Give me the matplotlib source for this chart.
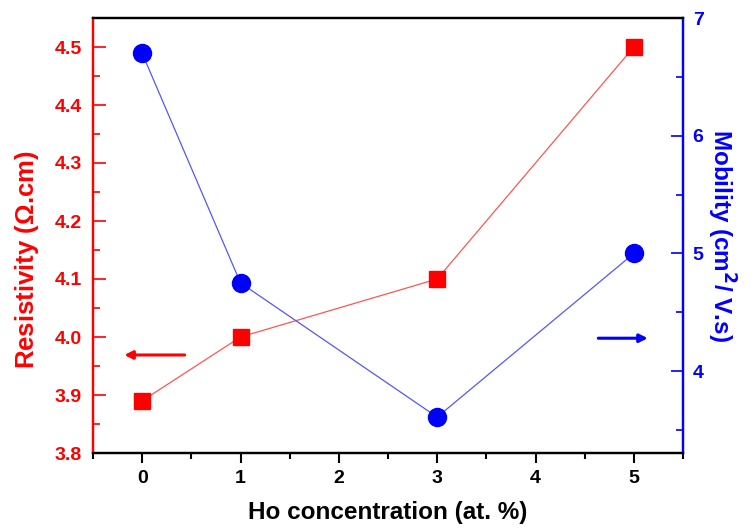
#!/usr/bin/env python3

import matplotlib
matplotlib.use('Agg')
import matplotlib.pyplot as plt
from matplotlib.ticker import MultipleLocator

# Data
ho_conc = [0, 1, 3, 5]
resistivity = [3.89, 4.00, 4.10, 4.50]
mobility = [6.70, 4.75, 3.61, 5.00]

plt.rcParams['font.family'] = ['Liberation Sans', 'DejaVu Sans']
plt.rcParams['font.weight'] = 'bold'


def main():
    fig = plt.figure(figsize=(7.52, 5.30), dpi=100)
    ax = fig.add_axes([93 / 752, 1 - 453 / 530, (683 - 93) / 752, (453 - 18) / 530])
    ax2 = ax.twinx()

    ax.plot(ho_conc, resistivity, '-', color='#ff5555', lw=0.9)
    ax.plot(ho_conc, resistivity, 's', color='red', ms=11, mec='red')
    ax2.plot(ho_conc, mobility, '-', color='#5555ff', lw=0.9)
    ax2.plot(ho_conc, mobility, 'o', color='blue', ms=13, mec='blue')

    ax.set_xlim(-0.5, 5.5)
    ax.set_ylim(3.8, 4.55)
    ax2.set_ylim(3.305, 7.0)

    ax.xaxis.set_major_locator(MultipleLocator(1))
    ax.xaxis.set_minor_locator(MultipleLocator(0.5))
    ax.yaxis.set_major_locator(MultipleLocator(0.1))
    ax.yaxis.set_minor_locator(MultipleLocator(0.05))
    ax2.yaxis.set_major_locator(MultipleLocator(1))
    ax2.yaxis.set_minor_locator(MultipleLocator(0.5))

    ax.tick_params(axis='x', which='major', direction='out', length=7, width=1.5,
                   labelsize=14, colors='black', pad=5)
    ax.tick_params(axis='x', which='minor', direction='out', length=4, width=1.5)
    ax.tick_params(axis='y', which='major', direction='in', length=9, width=1.2,
                   labelsize=14, colors='red', pad=8)
    ax.tick_params(axis='y', which='minor', direction='in', length=5, width=1.2, colors='red')
    ax2.tick_params(axis='y', which='major', direction='in', length=9, width=1.2,
                    labelsize=14, colors='blue', pad=7)
    ax2.tick_params(axis='y', which='minor', direction='in', length=5, width=1.2, colors='blue')

    for a in (ax, ax2):
        a.spines['top'].set_color('black')
        a.spines['bottom'].set_color('black')
        a.spines['left'].set_color('red')
        a.spines['right'].set_color('blue')
        for s in a.spines.values():
            s.set_linewidth(1.6)

    ax.set_xlabel('Ho concentration (at. %)', fontsize=17.5, fontweight='bold', labelpad=10)
    ax.set_ylabel('Resistivity ($\\mathregular{\\Omega}$.cm)', fontsize=18.5,
                  fontweight='bold', color='red', labelpad=8)
    ax.yaxis.set_label_coords(-0.088, 0.445)
    ax2.set_ylabel('Mobility (cm$^{\\mathbf{2}}$/ V.s)', fontsize=17.5, fontweight='bold',
                   color='blue', rotation=270, labelpad=24)

    # Arrows pointing to the respective axes
    ax.annotate('', xy=(-0.21, 3.969), xytext=(0.46, 3.969),
                arrowprops=dict(arrowstyle='-|>', color='red', lw=2.2, mutation_scale=12))
    ax2.annotate('', xy=(5.17, 4.28), xytext=(4.61, 4.28),
                 arrowprops=dict(arrowstyle='-|>', color='blue', lw=2.2, mutation_scale=12))

    fig.savefig('out.png', dpi=100)


if __name__ == '__main__':
    main()
